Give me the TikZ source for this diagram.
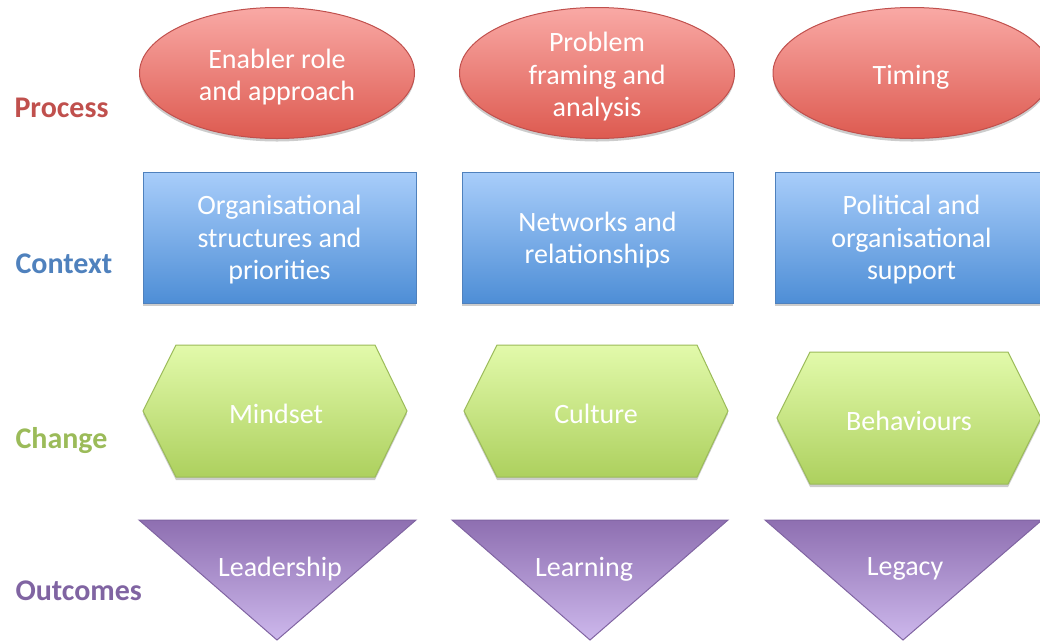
\documentclass[tikz,border=0pt]{standalone}
\usepackage{fontspec}
\setmainfont{Carlito}
\usetikzlibrary{shapes.geometric, shadows}

\definecolor{procred}{HTML}{C0504D}
\definecolor{proctop}{HTML}{F9A9A5}
\definecolor{procbot}{HTML}{DD5A50}
\definecolor{contblue}{HTML}{4F81BD}
\definecolor{conttop}{HTML}{A8CDFA}
\definecolor{contbot}{HTML}{4E8ED6}
\definecolor{changegreen}{HTML}{9BBB59}
\definecolor{changetop}{HTML}{E2FAAB}
\definecolor{changebot}{HTML}{ADD05E}
\definecolor{outpurple}{HTML}{8064A2}
\definecolor{outtop}{HTML}{8E6FB1}
\definecolor{outbot}{HTML}{CDB8EC}

\tikzset{
    boxtext/.style={text=white, align=center, font=\fontsize{28}{32.5}\selectfont},
    softshadow/.style={drop shadow={shadow xshift=0pt, shadow yshift=-3pt, opacity=0.2, fill=black}},
    process/.style={ellipse, draw=procred, line width=1pt, top color=proctop, bottom color=procbot,
        minimum width=275pt, minimum height=131pt, inner sep=0pt, softshadow},
    context/.style={rectangle, draw=contblue, line width=1pt, top color=conttop, bottom color=contbot,
        minimum width=273pt, minimum height=131pt, inner sep=0pt, softshadow},
    change/.style={draw=changegreen, line width=1pt, top color=changetop, bottom color=changebot, softshadow},
    outcome/.style={draw=outpurple, line width=1pt, top color=outtop, bottom color=outbot},
    rowlabel/.style={anchor=west, font=\fontsize{30}{34}\selectfont\bfseries}
}

\begin{document}
\begin{tikzpicture}[x=1pt, y=-1pt]
    \useasboundingbox (0,0) rectangle (1040,641);
    \clip (0,0) rectangle (1040,641);

    % row labels
    \node [rowlabel, text=procred] (lprocess) at (11,108) {Process};
    \node [rowlabel, text=contblue] (lcontext) at (12,264) {Context};
    \node [rowlabel, text=changegreen] (lchange) at (12,441) {Change};
    \node [rowlabel, text=outpurple] (loutcomes) at (12,591) {Outcomes};

    % process
    \node [process] (enabler) at (277,73) {};
    \node [process] (framing) at (597,73) {};
    \node [process, minimum width=278pt] (timing) at (912,73) {};
    \node [boxtext] at (277,77) {Enabler role\\and approach};
    \node [boxtext] at (597,77) {Problem\\framing and\\analysis};
    \node [boxtext] at (911,77) {Timing};

    % context
    \node [context] (structures) at (279.5,237.5) {};
    \node [context, minimum width=271pt] (networks) at (597.5,237.5) {};
    \node [context] (support) at (911.5,237.5) {};
    \node [boxtext] at (279.5,240) {Organisational\\structures and\\priorities};
    \node [boxtext] at (597.5,240) {Networks and\\relationships};
    \node [boxtext] at (911.5,240) {Political and\\organisational\\support};

    % change
    \draw [change] (143,411) -- (176,345) -- (375,345) -- (407,411) -- (375,477) -- (176,477) -- cycle;
    \draw [change] (464,411) -- (497,345) -- (697,345) -- (728,411) -- (697,477) -- (497,477) -- cycle;
    \draw [change] (777,418) -- (810,352) -- (1008,352) -- (1041,418) -- (1008,484) -- (810,484) -- cycle;
    \node [boxtext] (mindset) at (276,414) {Mindset};
    \node [boxtext] (culture) at (596,414) {Culture};
    \node [boxtext] (behaviours) at (909,421) {Behaviours};

    % outcomes
    \draw [outcome] (139,520) -- (416,520) -- (277,640) -- cycle;
    \draw [outcome] (452,520) -- (728,520) -- (590,640) -- cycle;
    \draw [outcome] (765,520) -- (1042,520) -- (903,640) -- cycle;
    \node [boxtext] (leadership) at (280,569) {Leadership};
    \node [boxtext] (learning) at (584,569) {Learning};
    \node [boxtext] (legacy) at (905,569) {Legacy};
\end{tikzpicture}
\end{document}
